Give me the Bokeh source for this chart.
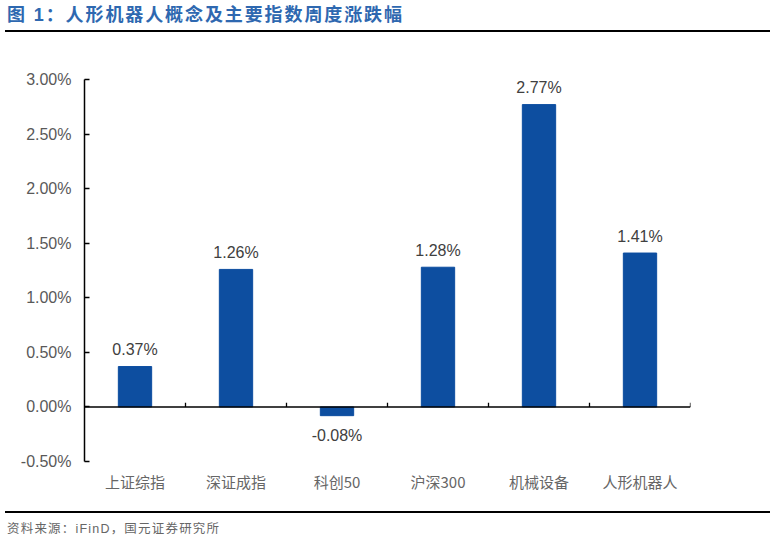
from bokeh.plotting import figure
from bokeh.models import Range1d, Span, NumeralTickFormatter, Div, ColumnDataSource
from bokeh.layouts import column
from bokeh.core.properties import value
from bokeh.embed import file_html
from bokeh.resources import INLINE

categories = ["上证综指", "深证成指", "科创50", "沪深300", "机械设备", "人形机器人"]
changes_pct = [0.37, 1.26, -0.08, 1.28, 2.77, 1.41]
y_ticks_pct = [-0.5, 0.0, 0.5, 1.0, 1.5, 2.0, 2.5, 3.0]
title_text = "图 1：人形机器人概念及主要指数周度涨跌幅"
source_text = "资料来源：iFinD，国元证券研究所"

vals = [v / 100 for v in changes_pct]
labels = [f"{v:.2f}%" for v in changes_pct]
offsets = [-17 if v >= 0 else 20 for v in changes_pct]
src = ColumnDataSource(dict(x=categories, top=vals, label=labels, off=offsets))

p = figure(x_range=categories, y_range=Range1d(y_ticks_pct[0] / 100, y_ticks_pct[-1] / 100),
           width=776, height=472, output_backend="svg", toolbar_location=None,
           min_border_left=84, min_border_right=86, min_border_top=46, min_border_bottom=44)
p.outline_line_color = None
p.xgrid.grid_line_color = None
p.ygrid.grid_line_color = None
p.background_fill_color = "white"
p.border_fill_color = "white"

p.vbar(x="x", top="top", width=0.33, color="#0D4EA0", source=src)

# zero line and category boundary ticks (synthetic coordinates of the factor range)
p.add_layout(Span(location=0, dimension="width", line_color="black", line_width=1.5))
bounds = [float(i) for i in range(1, len(categories) + 1)]
p.segment(x0=bounds, y0=[0.0] * len(bounds), x1=bounds, y1=[0.00038] * len(bounds),
          line_color="black", line_width=1.3)

p.text(x="x", y="top", text="label", y_offset="off", source=src,
       text_align="center", text_baseline="middle",
       text_font=value("Liberation Sans"), text_font_size="16px", text_color="#404040")

ya = p.yaxis[0]
ya.ticker = [t / 100 for t in y_ticks_pct]
ya.formatter = NumeralTickFormatter(format="0.00%")
ya.major_tick_in = 5
ya.major_tick_out = 0
ya.minor_tick_line_color = None
ya.axis_line_width = 1.5
ya.major_tick_line_width = 1.3
ya.axis_line_color = "black"
ya.major_tick_line_color = "black"
ya.major_label_standoff = 13
ya.major_label_text_font = "Liberation Sans"
ya.major_label_text_font_size = "16px"
ya.major_label_text_color = "#595959"

xa = p.xaxis[0]
xa.axis_line_color = None
xa.major_tick_line_color = None
xa.minor_tick_line_color = None
xa.major_tick_out = 0
xa.major_label_standoff = 9
xa.major_label_text_font = "Noto Sans CJK SC"
xa.major_label_text_font_size = "15px"
xa.major_label_text_color = "#666666"

title_html = (
    '<div style="position:relative;width:776px;height:33px;background:white;">'
    '<div style="position:absolute;left:7px;top:4px;white-space:nowrap;'
    "font-family:'Liberation Sans','Noto Sans CJK SC';font-weight:bold;font-size:18px;"
    'letter-spacing:1.9px;color:#2E68B0;line-height:22px;">' + title_text + '</div>'
    '<div style="position:absolute;left:5px;width:765px;top:30px;height:2px;background:#000;"></div>'
    '</div>'
)
source_html = (
    '<div style="position:relative;width:776px;height:37px;background:white;">'
    '<div style="position:absolute;left:5px;width:765px;top:6px;height:2px;background:#000;"></div>'
    '<div style="position:absolute;left:7px;top:16px;white-space:nowrap;'
    "font-family:'Liberation Sans','Noto Sans CJK SC';font-size:12.5px;letter-spacing:1.2px;"
    'color:#666666;line-height:16px;">' + source_text + '</div>'
    '</div>'
)
title_div = Div(text=title_html, width=776, height=33, margin=(0, 0, 0, 0))
source_div = Div(text=source_html, width=776, height=37, margin=(0, 0, 0, 0))

layout = column(title_div, p, source_div, spacing=0, margin=(0, 0, 0, 0))
open("out.html", "w").write(file_html(layout, INLINE))
